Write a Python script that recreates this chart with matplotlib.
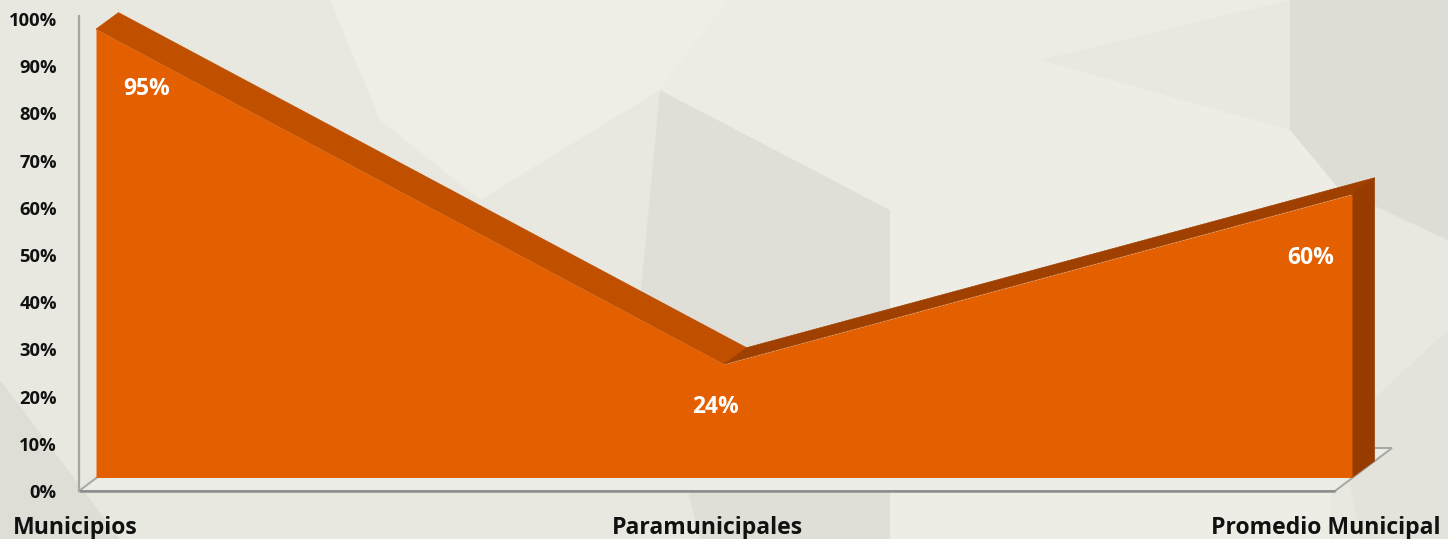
import matplotlib
matplotlib.use("Agg")
import matplotlib.pyplot as plt
import matplotlib.transforms as mtransforms
from matplotlib.patches import Polygon
import numpy as np

# ---- data ----
categories = ["Municipios", "Paramunicipales", "Promedio Municipal"]
values = [95, 24, 60]
value_labels = ["95%", "24%", "60%"]
y_ticks = [0, 10, 20, 30, 40, 50, 60, 70, 80, 90, 100]
y_tick_labels = [f"{t}%" for t in y_ticks]

# ---- style ----
W, H = 1448, 539
FONT = "Open Sans"
front_col = "#E45F00"
top_cols = ["#C05000", "#A04000"]
side_col = "#963C00"
bg_col = "#E8E8E0"

fig = plt.figure(figsize=(W / 100, H / 100), dpi=100)
fig.patch.set_facecolor(bg_col)

# decorative background facets (figure fraction)
def fpoly(pts, color):
    pts = [(x / W, 1 - y / H) for x, y in pts]
    fig.patches.append(Polygon(pts, closed=True, transform=fig.transFigure,
                               facecolor=color, edgecolor="none", zorder=-10))

fpoly([(330, 0), (730, 0), (660, 90), (480, 200), (380, 120)], "#EEEEE7")
fpoly([(660, 90), (890, 210), (890, 539), (700, 539), (640, 300)], "#DFDFD8")
fpoly([(730, 0), (1290, 0), (1040, 60), (890, 210), (660, 90)], "#ECECE5")
fpoly([(1040, 60), (1290, 130), (1340, 190), (1330, 539), (890, 539), (890, 210)], "#EDEDE6")
fpoly([(1290, 0), (1448, 0), (1448, 240), (1340, 190), (1290, 130)], "#DDDDD6")
fpoly([(0, 380), (120, 539), (0, 539)], "#DEDED7")
fpoly([(1340, 430), (1448, 330), (1448, 539), (1360, 539)], "#E3E3DC")

# axes: x 0..2 -> px 79..1335 ; y 0..100 -> px 491..19
x0, x1, yb, yt = 79, 1335, 491, 19
ax = fig.add_axes([x0 / W, 1 - yb / H, (x1 - x0) / W, (yb - yt) / H])
ax.set_xlim(0, 2)
ax.set_ylim(0, 100)
ax.patch.set_alpha(0)

px_x = 2 / (x1 - x0)        # data units per pixel (x)
px_y = 100 / (yb - yt)      # data units per pixel (y)

def off(p, dx, dy):
    return (p[0] + dx * px_x, p[1] + dy * px_y)

xs = np.arange(len(categories))
front = (17, 13.5)          # pixel offset of series front face
back = (39.5, 30)           # pixel offset of series back face
floor_back = (57, 43)       # pixel depth of the floor

# floor
fl = [(0, 0), (2, 0), off((2, 0), *floor_back), off((0, 0), *floor_back)]
ax.add_patch(Polygon(fl, closed=True, facecolor="#ECECE6", edgecolor="#A6A6A6",
                     lw=1.4, clip_on=False, zorder=1))
ax.plot([0, 2], [0, 0], color="#8C8C8C", lw=1.8, clip_on=False, zorder=2,
        solid_capstyle="butt")

# top bands of the 3D area
for i in range(len(xs) - 1):
    p0, p1 = (xs[i], values[i]), (xs[i + 1], values[i + 1])
    poly = [off(p0, *front), off(p1, *front), off(p1, *back), off(p0, *back)]
    ax.add_patch(Polygon(poly, closed=True, facecolor=top_cols[i],
                         edgecolor=top_cols[i], lw=0.5, clip_on=False, zorder=3))

# right side face
pe = (xs[-1], values[-1])
pb = (xs[-1], 0)
side = [off(pb, *front), off(pe, *front), off(pe, *back), off(pb, *back)]
ax.add_patch(Polygon(side, closed=True, facecolor=side_col, edgecolor=side_col,
                     lw=0.5, clip_on=False, zorder=3))

# front face
fx = [x + front[0] * px_x for x in xs]
fb = front[1] * px_y
ax.fill_between(fx, [fb] * len(xs), [v + fb for v in values], color=front_col,
                lw=0, clip_on=False, zorder=4)

# data labels
label_offsets = [(68, -46), (9, -29), (-24, -50)]
for x, v, lab, (dx, dy) in zip(xs, values, value_labels, label_offsets):
    ax.annotate(lab, (x, v), xytext=(dx, dy), textcoords="offset pixels",
                ha="center", va="center", color="white", fontsize=16.5,
                fontweight="bold", family=FONT, zorder=6, annotation_clip=False)

# axes styling
for s in ["top", "right", "bottom"]:
    ax.spines[s].set_visible(False)
ax.spines["left"].set_color("#A6A6A6")
ax.spines["left"].set_linewidth(1.6)
ax.spines["left"].set_bounds(0, 100.6)

ax.set_yticks(y_ticks)
ax.set_yticklabels(y_tick_labels)
ax.set_xticks(xs)
ax.set_xticklabels(categories)
ax.tick_params(axis="y", length=0, pad=16)
ax.tick_params(axis="x", length=0, pad=18)
for t in ax.get_yticklabels():
    t.set_fontfamily(FONT); t.set_fontweight("bold"); t.set_fontsize(13.2)
    t.set_color("#111111")
xt_shift = [-4, 0, -9]
for t, s in zip(ax.get_xticklabels(), xt_shift):
    t.set_fontfamily(FONT); t.set_fontweight("bold"); t.set_fontsize(16.6)
    t.set_color("#111111")
    t.set_transform(t.get_transform() +
                    mtransforms.ScaledTranslation(s / 100, 0, fig.dpi_scale_trans))

fig.savefig("out.png", dpi=100, facecolor=fig.get_facecolor())
